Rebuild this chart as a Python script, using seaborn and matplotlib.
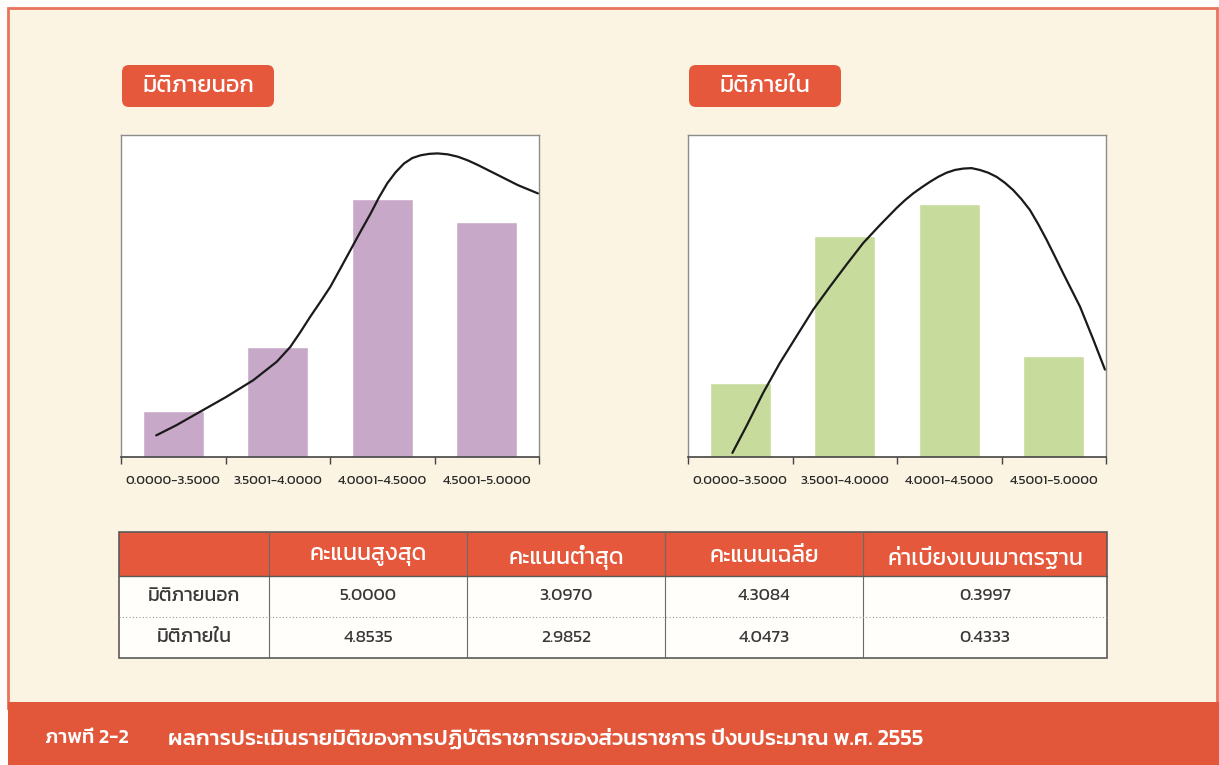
import matplotlib
matplotlib.use('Agg')
import matplotlib.pyplot as plt
from matplotlib.patches import Rectangle, FancyBboxPatch
import seaborn as sns

# bar data (share of agencies per score band)
categories = ['0.0000-3.5000', '3.5001-4.0000', '4.0001-4.5000', '4.5001-5.0000']
outer_values = [10, 24, 56, 51]
inner_values = [16, 48, 55, 22]

# fitted curves, x in category units
outer_curve_x = [-0.163, 0.029, 0.285, 0.510, 0.766, 0.990, 1.119, 1.215, 1.311, 1.407,
                 1.503, 1.600, 1.696, 1.792, 1.888, 1.968, 2.048, 2.128, 2.208, 2.288,
                 2.369, 2.449, 2.529, 2.625, 2.721, 2.817, 2.913, 3.106, 3.298, 3.490]
outer_curve_y = [4.7, 6.9, 10.2, 13.1, 16.7, 20.7, 23.9, 27.1, 30.5, 33.7,
                 37.0, 41.0, 45.0, 49.0, 52.9, 56.4, 59.5, 61.9, 63.8, 65.0,
                 65.6, 65.9, 66.0, 65.8, 65.3, 64.5, 63.5, 61.3, 59.1, 57.3]
inner_curve_x = [-0.075, 0.059, 0.218, 0.378, 0.537, 0.697, 0.857, 1.016, 1.176, 1.336,
                 1.495, 1.575, 1.655, 1.735, 1.814, 1.894, 1.974, 2.054, 2.134, 2.213,
                 2.293, 2.373, 2.453, 2.533, 2.613, 2.693, 2.772, 2.852, 2.932, 3.011,
                 3.091, 3.251, 3.379, 3.490]
inner_curve_y = [0.9, 6.7, 13.9, 20.4, 26.2, 32.0, 37.0, 41.8, 46.5, 50.4,
                 54.1, 55.8, 57.3, 58.6, 59.8, 60.9, 61.8, 62.4, 62.7, 62.8,
                 62.4, 61.8, 60.9, 59.6, 58.0, 56.0, 53.7, 50.6, 47.2, 43.6,
                 39.9, 32.7, 25.5, 19.0]

panel_titles = ['มิติภายนอก', 'มิติภายใน']
table_header = ['', 'คะแนนสูงสุด', 'คะแนนต่ำสุด', 'คะแนนเฉลี่ย', 'ค่าเบี่ยงเบนมาตรฐาน']
row_labels = ['มิติภายนอก', 'มิติภายใน']
max_scores = ['5.0000', '4.8535']
min_scores = ['3.0970', '2.9852']
mean_scores = ['4.3084', '4.0473']
sd_scores = ['0.3997', '0.4333']
caption_no = 'ภาพที่ 2-2'
caption = 'ผลการประเมินรายมิติของการปฏิบัติราชการของส่วนราชการ ปีงบประมาณ พ.ศ. 2555'

RED = '#E5583B'
CREAM = '#FCF4E3'
THAI = ['Kanit', 'DejaVu Sans']

sns.set_theme(style='white')
plt.rcParams['font.family'] = THAI

W, H = 1219, 765
fig = plt.figure(figsize=(W / 100, H / 100), dpi=100)
fig.patch.set_facecolor('#FEFDFB')

# page background in pixel coordinates
bg = fig.add_axes([0, 0, 1, 1], zorder=0)
bg.set_xlim(0, W)
bg.set_ylim(H, 0)
bg.axis('off')
bg.add_patch(Rectangle((8, 8), 1209, 700, facecolor=CREAM, edgecolor='#E9735C', lw=2))
bg.add_patch(Rectangle((8, 702), 1211, 63, facecolor='#E2563A', edgecolor='none'))
bg.text(45, 738, caption_no, color='white', fontsize=14.5, fontweight='medium', va='center')
bg.text(168, 738, caption, color='white', fontsize=16, fontweight='medium', va='center')

# panel title boxes
for x0, title in zip([122, 689], panel_titles):
    bg.add_patch(FancyBboxPatch((x0, 65), 152, 42, boxstyle='round,pad=0,rounding_size=7',
                                facecolor=RED, edgecolor='none'))
    bg.text(x0 + 76, 86, title, color='white', fontsize=17, fontweight='normal',
            ha='center', va='center')

# table
cols = [119, 269, 467, 665, 863, 1107]
top, head_b, mid, bot = 532, 576, 617, 658
bg.add_patch(Rectangle((cols[0], head_b), cols[-1] - cols[0], bot - head_b, facecolor='#FFFEFA', edgecolor='none'))
bg.add_patch(Rectangle((cols[0], top), cols[-1] - cols[0], head_b - top, facecolor=RED, edgecolor='none'))
bg.add_patch(Rectangle((cols[0], top), cols[-1] - cols[0], bot - top, facecolor='none', edgecolor='#5a5a5a', lw=1.2))
for c in cols[1:-1]:
    bg.plot([c, c], [top, bot], color='#6a6a6a', lw=0.8)
bg.plot([cols[0], cols[-1]], [head_b, head_b], color='#5a5a5a', lw=1)
bg.plot([cols[0], cols[-1]], [mid, mid], color='#9a9a9a', lw=0.8, ls=(0, (1, 2)))
for i, h in enumerate(table_header):
    cx = (cols[i] + cols[i + 1]) / 2
    bg.text(cx, (top + head_b) / 2 + 3, h, color='white', fontsize=16.5, ha='center', va='center')
rows = [row_labels, max_scores, min_scores, mean_scores, sd_scores]
for r, yc in enumerate([(head_b + mid) / 2, (mid + bot) / 2]):
    for i, col in enumerate(rows):
        cx = (cols[i] + cols[i + 1]) / 2
        bg.text(cx, yc, col[r], color='#383838', fontsize=14 if i == 0 else 12.5,
                fontweight='normal', ha='center', va='center')

# the two histograms
panels = [(121, outer_values, outer_curve_x, outer_curve_y, '#C8A8C8'),
          (688, inner_values, inner_curve_x, inner_curve_y, '#C6DB9C')]
for x0, vals, cx, cy, color in panels:
    ax = fig.add_axes([x0 / W, 1 - 457 / H, 418 / W, 322 / H], zorder=2)
    ax.set_facecolor('white')
    sns.barplot(x=categories, y=vals, color=color, width=0.58, saturation=1, ax=ax)
    sns.lineplot(x=cx, y=cy, color='#1a1a1a', lw=1.6, ax=ax,
                 solid_joinstyle='round', solid_capstyle='round')
    ax.set_xlim(-0.5, 3.5)
    ax.set_ylim(0, 70)
    ax.set_yticks([])
    ax.set_xticks([-0.5, 0.5, 1.5, 2.5, 3.5])
    ax.set_xticklabels([])
    ax.set_xticks(range(4), minor=True)
    ax.set_xticklabels(categories, minor=True, fontsize=9.5, color='#2a2a2a')
    ax.tick_params(axis='x', which='major', direction='out', length=5, width=1, color='#444444', bottom=True)
    ax.tick_params(axis='x', which='minor', length=0, pad=14)
    for side in ['left', 'top', 'right']:
        ax.spines[side].set_color('#8c8c8c')
        ax.spines[side].set_linewidth(1)
    ax.spines['bottom'].set_color('#444444')
    ax.spines['bottom'].set_linewidth(1.2)
    ax.set_xlabel('')
    ax.set_ylabel('')

fig.savefig('out.png', dpi=100)
